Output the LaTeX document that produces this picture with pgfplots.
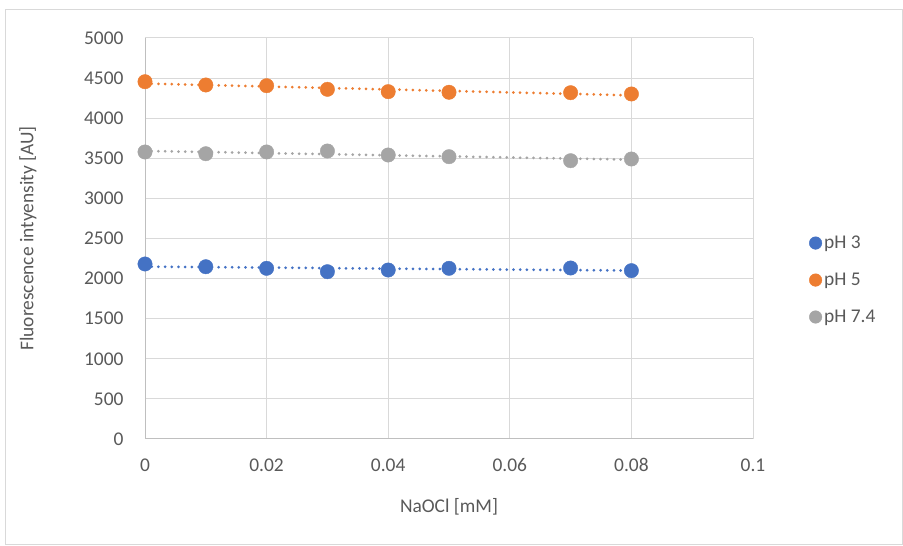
\documentclass[border=0pt]{standalone}
\usepackage{pgfplots}
\pgfplotsset{compat=1.18}
\usepackage{fontspec}
\setmainfont{Carlito}

\definecolor{cblue}{HTML}{4472C4}
\definecolor{corange}{HTML}{ED7D31}
\definecolor{cgray}{HTML}{A5A5A5}
\definecolor{gridc}{HTML}{D9D9D9}
\definecolor{axc}{HTML}{BFBFBF}
\definecolor{txt}{HTML}{595959}

\begin{document}
\begin{tikzpicture}[x=1bp,y=1bp]
\useasboundingbox (0,0) rectangle (903,546);
\draw[gridc, line width=1bp] (5,1) rectangle (902,536);
\begin{axis}[
  at={(145bp,107bp)}, anchor=south west,
  scale only axis, width=608bp, height=401bp,
  xmin=0, xmax=0.1, ymin=0, ymax=5000,
  xtick={0,0.02,0.04,0.06,0.08,0.1},
  xticklabels={0,0.02,0.04,0.06,0.08,0.1},
  ytick={0,500,...,5000},
  /pgf/number format/.cd, 1000 sep={}, assume math mode=true, /pgfplots/.cd,
  major tick length=0pt,
  axis lines*=left,
  axis line style={axc, line width=1bp},
  grid=major,
  major grid style={gridc, line width=1bp},
  tick label style={font=\fontsize{19.5}{21}\selectfont, text=txt},
  label style={font=\fontsize{19.5}{21}\selectfont, text=txt},
  xticklabel shift=16bp,
  yticklabel shift=18bp,
  xlabel={NaOCl [mM]},
  ylabel={Fluorescence intyensity [AU]},
  xlabel style={at={(axis description cs:0.5,-0.17)}, anchor=center},
  ylabel style={at={(axis description cs:-0.1925,0.5)}, anchor=center},
  legend style={draw=none, fill=none, font=\fontsize{19.5}{21}\selectfont, text=txt,
    at={(axis description cs:1.087,0.3965)}, anchor=west,
    row sep=19bp, legend cell align=left},
  legend image code/.code={\fill (0.25em,0) circle (6.3bp);},
  clip=false,
]
\addplot[only marks, mark=*, mark size=7.2bp, color=cblue] coordinates {
(0,2182) (0.01,2148) (0.02,2128) (0.03,2086) (0.04,2107) (0.05,2128) (0.07,2132) (0.08,2099)};
\addlegendentry{pH 3}
\addplot[only marks, mark=*, mark size=7.2bp, color=corange] coordinates {
(0,4455) (0.01,4414) (0.02,4405) (0.03,4360) (0.04,4331) (0.05,4323) (0.07,4318) (0.08,4302)};
\addlegendentry{pH 5}
\addplot[only marks, mark=*, mark size=7.2bp, color=cgray] coordinates {
(0,3579) (0.01,3557) (0.02,3579) (0.03,3591) (0.04,3541) (0.05,3520) (0.07,3470) (0.08,3491)};
\addlegendentry{pH 7.4}
% linear trendlines
\addplot[forget plot, cblue, line width=3bp, line cap=round, dash pattern=on 0pt off 6.7bp] coordinates {(0,2149) (0.08,2100)};
\addplot[forget plot, corange, line width=3bp, line cap=round, dash pattern=on 0pt off 6.7bp] coordinates {(0,4432) (0.08,4285)};
\addplot[forget plot, cgray, line width=3bp, line cap=round, dash pattern=on 0pt off 6.7bp] coordinates {(0,3592) (0.08,3483)};
\end{axis}
\end{tikzpicture}
\end{document}
